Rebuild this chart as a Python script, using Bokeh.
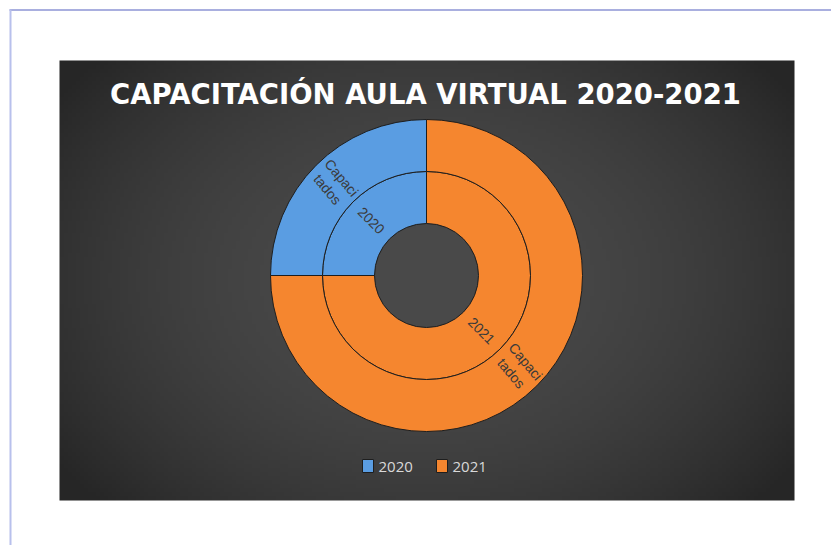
import numpy as np
from bokeh.plotting import figure
from bokeh.models import Range1d
from bokeh.core.properties import value
from bokeh.embed import file_html
from bokeh.resources import INLINE

# ---- data ----
title = "CAPACITACIÓN AULA VIRTUAL 2020-2021"
years = ["2020", "2021"]
capacitados = [25, 75]
child_label = "Capaci\ntados"
colors = ["#5a9de2", "#f5862f"]

# ---- figure in page-pixel coordinates ----
W, H = 831, 545
p = figure(width=W, height=H, x_range=Range1d(0, W), y_range=Range1d(0, H),
           output_backend="svg", toolbar_location=None, min_border=0,
           x_axis_type=None, y_axis_type=None, outline_line_color=None,
           background_fill_color="white", border_fill_color="white")
p.grid.visible = False

def Y(sy):
    return H - sy

# page frame lines
p.line(x=[9, 831], y=[Y(9.5), Y(9.5)], line_color="#8c94d4", line_width=1.5)
p.line(x=[10, 10], y=[Y(9), Y(545)], line_color="#b8c0ec", line_width=2)

# dark panel with radial gradient
px0, px1, py0, py1 = 59, 794, 60, 500
ny, nx = 110, 184
xs = np.linspace(-1, 1, nx)
ys = np.linspace(-1, 1, ny)
XX, YY = np.meshgrid(xs, ys)
d2 = (XX / 1.1) ** 2 + (YY / 1.35) ** 2
lum = 0x26 + (0x4a - 0x26) * np.clip(1 - d2 * 0.8, 0, 1)
img = np.zeros((ny, nx, 4), dtype=np.uint8)
img[..., 0] = lum.astype(np.uint8)
img[..., 1] = lum.astype(np.uint8)
img[..., 2] = lum.astype(np.uint8)
img[..., 3] = 255
img32 = img.view(dtype=np.uint32).reshape((ny, nx))
p.image_rgba(image=[img32], x=px0, y=Y(py1), dw=px1 - px0, dh=py1 - py0)

# title
p.text(x=[425], y=[Y(93)], text=[title], text_align="center", text_baseline="middle",
       text_font=value("DejaVu Sans"), text_font_style="bold", text_font_size="27.5px",
       text_color="white")

# sunburst
cx, cy = 426, Y(275)
r0, r1, r2 = 52, 104, 156
total = sum(capacitados)
start = np.pi / 2
starts, ends, mids = [], [], []
a = start
for v in capacitados:
    sweep = 2 * np.pi * v / total
    starts.append(a)
    ends.append(a + sweep)
    mids.append(a + sweep / 2)
    a += sweep

for (ri, ro) in [(r0, r1), (r1, r2)]:
    p.annular_wedge(x=cx, y=cy, inner_radius=ri, outer_radius=ro,
                    inner_radius_units="screen", outer_radius_units="screen",
                    start_angle=starts, end_angle=ends, fill_color=colors,
                    line_color="#1e1e1e", line_width=1)

# labels
rm_in = (r0 + r1) / 2
rm_out = (r1 + r2) / 2
for i, yr in enumerate(years):
    m = mids[i]
    p.text(x=[cx + rm_in * np.cos(m)], y=[cy + rm_in * np.sin(m)], text=[yr],
           angle=-np.pi / 4, text_align="center", text_baseline="middle",
           text_font=value("Liberation Sans"), text_font_size="14px", text_color="#3a3a3a")
    p.text(x=[cx + rm_out * np.cos(m)], y=[cy + rm_out * np.sin(m)], text=[child_label],
           angle=-np.radians(50), text_align="center", text_baseline="middle",
           text_font=value("Liberation Sans"), text_font_size="14px", text_color="#3a3a3a",
           text_line_height=1.15)

# legend
leg_x = [367.5, 441.5]
for i, yr in enumerate(years):
    p.rect(x=[leg_x[i]], y=[Y(465.5)], width=11, height=13, fill_color=colors[i],
           line_color="#1e1e1e", line_width=1)
    p.text(x=[leg_x[i] + 10.5], y=[Y(466)], text=[yr], text_align="left",
           text_baseline="middle", text_font=value("Open Sans"), text_font_size="15px",
           text_color="#d9d9d9")

open("out.html", "w").write(file_html(p, INLINE))
